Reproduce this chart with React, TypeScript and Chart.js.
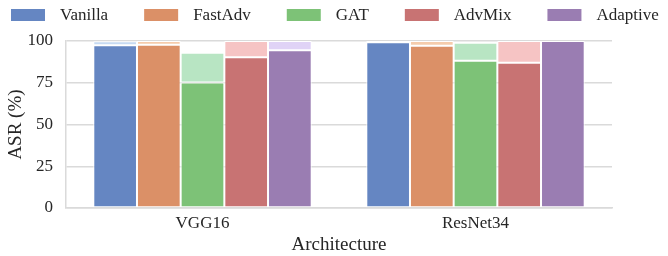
import React, { useEffect, useRef } from "react";
import { Chart, registerables } from "chart.js";

Chart.register(...registerables);

const categories = ["VGG16", "ResNet34"];
const seriesNames = ["Vanilla", "FastAdv", "GAT", "AdvMix", "Adaptive"];
// Solid (lower) values per series: [VGG16, ResNet34]
const vanillaLow = [97.5, 99.3];
const fastAdvLow = [97.7, 97.2];
const gatLow = [75.2, 88.2];
const advMixLow = [90.2, 87.0];
const adaptiveLow = [94.5, 100];
// Upper values (top of the light segment)
const vanillaHigh = [99.8, 100];
const fastAdvHigh = [100, 100];
const gatHigh = [93.0, 98.9];
const advMixHigh = [100, 100];
const adaptiveHigh = [100, 100];
const yTicks = [0, 25, 50, 75, 100];

const solidColors = ["#6586C2", "#DB9067", "#7DC277", "#C87373", "#9A7DB2"];
const lightColors = ["#C6DAF2", "#F5CCAC", "#B8E5C3", "#F6C4C4", "#E0D3F6"];

const FONT = '"Liberation Serif", "Times New Roman", serif';
const TEXT = "#262626";
const GRID = "#DADADA";

const legendPlugin = {
  id: "customLegend",
  afterDraw(chart: any) {
    const ctx = chart.ctx;
    ctx.save();
    ctx.font = `17px ${FONT}`;
    ctx.textBaseline = "middle";
    let x = 11;
    const y = 15;
    seriesNames.forEach((name, i) => {
      ctx.fillStyle = solidColors[i];
      ctx.fillRect(x, y - 6, 34, 12);
      x += 34 + 15;
      ctx.fillStyle = TEXT;
      ctx.fillText(name, x, y + 1);
      x += ctx.measureText(name).width + 36;
    });
    ctx.restore();
  },
};

export default function App() {
  const ref = useRef<HTMLCanvasElement>(null);
  useEffect(() => {
    if (!ref.current) return;
    const lows = [vanillaLow, fastAdvLow, gatLow, advMixLow, adaptiveLow];
    const highs = [vanillaHigh, fastAdvHigh, gatHigh, advMixHigh, adaptiveHigh];
    const solid = seriesNames.map((name, i) => ({
      label: name,
      data: lows[i],
      backgroundColor: solidColors[i],
      borderColor: "#ffffff",
      borderWidth: 1,
      borderSkipped: false,
      stack: "s" + i,
      categoryPercentage: 0.8,
      barPercentage: 1.0,
    }));
    const light = seriesNames.map((name, i) => ({
      label: name + " range",
      data: highs[i].map((h, j) => Math.max(0, h - lows[i][j])),
      backgroundColor: lightColors[i],
      borderColor: "#ffffff",
      borderWidth: 1,
      borderSkipped: false,
      stack: "s" + i,
      categoryPercentage: 0.8,
      barPercentage: 1.0,
    }));
    const chart = new Chart(ref.current, {
      type: "bar",
      data: { labels: categories, datasets: [...solid, ...light] as any },
      options: {
        animation: false,
        responsive: true,
        maintainAspectRatio: false,
        layout: { padding: { top: 41, right: 56, bottom: 0, left: 0 } },
        plugins: { legend: { display: false }, tooltip: { enabled: false } },
        scales: {
          x: {
            grid: { display: false, drawTicks: false },
            border: { display: true, color: GRID, width: 1.5 },
            ticks: { font: { family: FONT, size: 17 }, color: TEXT, padding: 5 },
            title: {
              display: true,
              text: "Architecture",
              font: { family: FONT, size: 19 },
              color: TEXT,
              padding: { top: 0, bottom: 0 },
            },
            afterFit: (scale: any) => {
              scale.height = 48;
            },
          },
          y: {
            stacked: true,
            min: 0,
            max: 100,
            afterBuildTicks: (scale: any) => {
              scale.ticks = yTicks.map((v) => ({ value: v }));
            },
            afterFit: (scale: any) => {
              scale.width = 66;
            },
            grid: { color: GRID, lineWidth: 1.5, drawTicks: false },
            border: { display: true, color: GRID, width: 1.5 },
            ticks: { font: { family: FONT, size: 17 }, color: TEXT, padding: 13 },
            title: {
              display: true,
              text: "ASR (%)",
              font: { family: FONT, size: 19 },
              color: TEXT,
              padding: { top: 5, bottom: 4 },
            },
          },
        },
      },
      plugins: [legendPlugin],
    });
    return () => chart.destroy();
  }, []);
  return (
    <div style={{ position: "absolute", left: 0, top: 0, width: 668, height: 256 }}>
      <canvas ref={ref} />
    </div>
  );
}
